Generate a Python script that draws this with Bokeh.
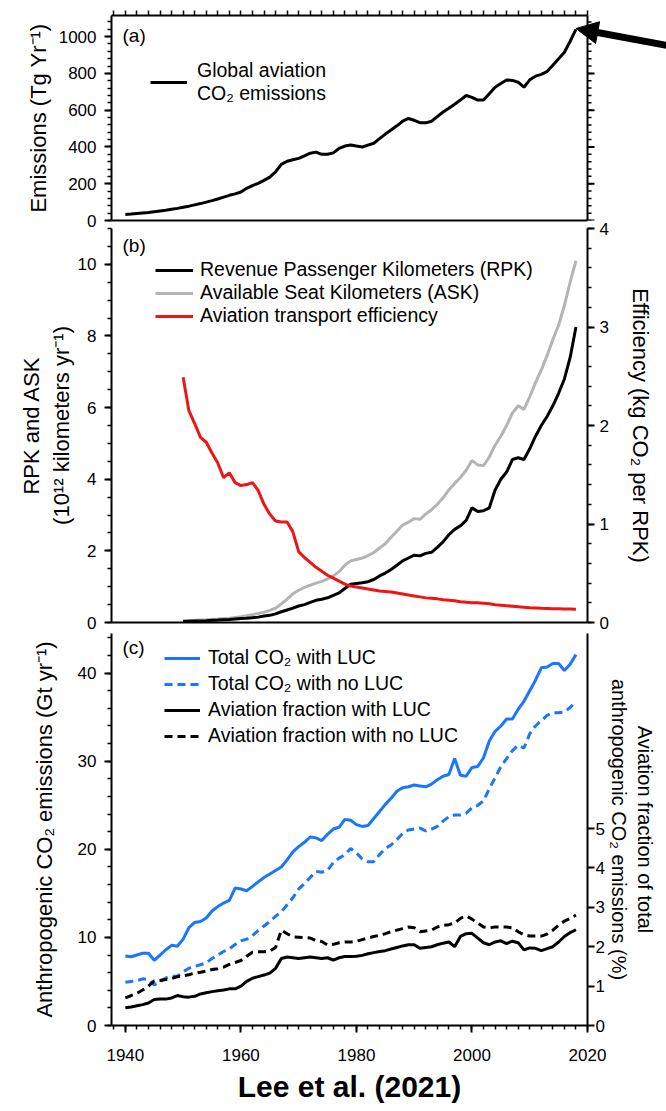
from bokeh.plotting import figure
from bokeh.models import (Range1d, LinearAxis, FixedTicker, Legend, LegendItem,
                          Label, Arrow, NormalHead, Span)
from bokeh.layouts import column
from bokeh.embed import file_html
from bokeh.resources import INLINE
from bokeh.core.properties import value

# ---------------- data ----------------
years_a = list(range(1940, 2019))
aviation_co2 = [33, 35, 38, 41, 44, 48, 52, 56, 61, 66,
                72, 78, 85, 92, 100, 108, 117, 127, 137, 145,
                155, 175, 190, 202, 218, 236, 265, 305, 322, 330,
                338, 352, 366, 372, 360, 360, 368, 392, 405, 411,
                405, 400, 410, 420, 445, 470, 492, 515, 540, 555,
                545, 532, 531, 540, 565, 590, 610, 632, 655, 680,
                670, 655, 655, 690, 725, 745, 764, 762, 752, 725,
                765, 785, 795, 810, 845, 880, 915, 975, 1040]

years_b = list(range(1950, 2019))
rpk = [0.03, 0.035, 0.04, 0.045, 0.05, 0.06, 0.068, 0.078, 0.085, 0.1,
       0.11, 0.12, 0.135, 0.15, 0.18, 0.2, 0.24, 0.3, 0.35, 0.4,
       0.46, 0.5, 0.56, 0.62, 0.65, 0.69, 0.76, 0.83, 0.95, 1.07,
       1.09, 1.11, 1.14, 1.2, 1.3, 1.38, 1.48, 1.6, 1.72, 1.8,
       1.88, 1.86, 1.93, 1.96, 2.1, 2.25, 2.45, 2.6, 2.7, 2.85,
       3.2, 3.1, 3.12, 3.2, 3.7, 4.0, 4.2, 4.55, 4.6, 4.55,
       4.85, 5.2, 5.5, 5.75, 6.05, 6.4, 6.8, 7.4, 8.25]
ask = [0.05, 0.055, 0.06, 0.068, 0.075, 0.085, 0.095, 0.11, 0.12, 0.14,
       0.16, 0.19, 0.22, 0.25, 0.29, 0.34, 0.4, 0.52, 0.65, 0.8,
       0.9, 0.98, 1.04, 1.1, 1.15, 1.22, 1.3, 1.42, 1.6, 1.72,
       1.76, 1.8, 1.87, 1.95, 2.08, 2.2, 2.38, 2.55, 2.72, 2.8,
       2.9, 2.88, 3.03, 3.15, 3.3, 3.48, 3.7, 3.88, 4.05, 4.25,
       4.52, 4.4, 4.38, 4.62, 4.95, 5.2, 5.5, 5.85, 6.05, 5.95,
       6.3, 6.7, 7.05, 7.45, 7.9, 8.3, 8.85, 9.5, 10.1]
efficiency = [2.49, 2.15, 2.02, 1.88, 1.83, 1.72, 1.62, 1.47, 1.52, 1.42,
              1.39, 1.40, 1.42, 1.34, 1.2, 1.1, 1.03, 1.02, 1.02, 0.92,
              0.72, 0.66, 0.61, 0.56, 0.52, 0.48, 0.45, 0.42, 0.39, 0.37,
              0.36, 0.35, 0.34, 0.33, 0.32, 0.315, 0.31, 0.3, 0.29, 0.28,
              0.27, 0.26, 0.25, 0.245, 0.24, 0.23, 0.225, 0.22, 0.21, 0.205,
              0.2, 0.2, 0.195, 0.19, 0.18, 0.175, 0.17, 0.165, 0.16, 0.155,
              0.15, 0.148, 0.145, 0.143, 0.14, 0.14, 0.138, 0.137, 0.135]

years_c = list(range(1940, 2019))
total_luc = [7.9, 7.8, 8.0, 8.2, 8.2, 7.4, 8.0, 8.6, 9.1, 9.0,
             9.8, 11.1, 11.7, 11.8, 12.2, 13.0, 13.5, 13.9, 14.2, 15.6,
             15.5, 15.3, 15.8, 16.3, 16.8, 17.2, 17.6, 18.0, 18.8, 19.7,
             20.3, 20.8, 21.4, 21.3, 21.0, 21.7, 22.3, 22.5, 23.4, 23.3,
             22.8, 22.6, 22.7, 23.5, 24.3, 25.1, 25.8, 26.6, 27.0, 27.1,
             27.3, 27.2, 27.1, 27.4, 27.9, 28.3, 28.5, 30.3, 28.4, 28.3,
             29.3, 29.4, 30.4, 32.3, 33.4, 34.0, 34.8, 34.8, 35.9, 36.8,
             38.0, 39.2, 40.6, 40.7, 41.1, 41.1, 40.3, 41.0, 42.1]
total_noluc = [4.9, 5.0, 5.1, 5.3, 5.2, 4.6, 5.0, 5.4, 5.6, 5.6,
               6.1, 6.5, 6.7, 6.9, 7.1, 7.6, 8.0, 8.4, 8.7, 9.2,
               9.6, 9.8, 10.2, 10.8, 11.3, 11.8, 12.4, 12.9, 13.7, 14.5,
               15.5, 16.1, 16.8, 17.5, 17.4, 17.6, 18.5, 19.0, 19.4, 20.1,
               19.6, 18.9, 18.6, 18.6, 19.4, 20.1, 20.5, 21.1, 21.8, 22.2,
               22.3, 22.4, 22.1, 22.3, 22.6, 23.2, 23.7, 23.9, 23.9, 24.1,
               24.7, 25.0, 25.5, 26.9, 28.1, 29.4, 30.3, 31.2, 31.8, 31.5,
               33.1, 34.0, 34.6, 35.2, 35.5, 35.5, 35.6, 36.1, 36.8]
frac_luc = [0.45, 0.47, 0.5, 0.53, 0.57, 0.66, 0.67, 0.67, 0.7, 0.76,
            0.73, 0.72, 0.74, 0.8, 0.83, 0.86, 0.88, 0.9, 0.93, 0.93,
            1.0, 1.12, 1.2, 1.24, 1.28, 1.33, 1.45, 1.7, 1.74, 1.72,
            1.7, 1.72, 1.74, 1.72, 1.7, 1.72, 1.66, 1.72, 1.75, 1.75,
            1.76, 1.78, 1.82, 1.85, 1.88, 1.9, 1.94, 1.98, 2.02, 2.05,
            2.05, 1.96, 1.98, 2.0, 2.05, 2.09, 2.12, 2.0, 2.26, 2.33,
            2.34, 2.22, 2.1, 2.05, 2.12, 2.15, 2.08, 2.14, 2.1, 1.92,
            1.97, 1.96, 1.9, 1.95, 2.0, 2.12, 2.26, 2.36, 2.43]
frac_noluc = [0.7, 0.76, 0.82, 0.9, 1.0, 1.13, 1.14, 1.17, 1.19, 1.24,
              1.26, 1.29, 1.33, 1.35, 1.38, 1.42, 1.44, 1.48, 1.55, 1.6,
              1.65, 1.76, 1.86, 1.87, 1.87, 1.89, 1.98, 2.42, 2.33, 2.25,
              2.24, 2.23, 2.22, 2.16, 2.13, 2.04, 2.06, 2.1, 2.12, 2.12,
              2.14, 2.18, 2.22, 2.26, 2.29, 2.33, 2.38, 2.42, 2.46, 2.5,
              2.48, 2.38, 2.4, 2.42, 2.5, 2.54, 2.56, 2.6, 2.72, 2.78,
              2.7, 2.6, 2.5, 2.48, 2.5, 2.5, 2.5, 2.48, 2.38, 2.3,
              2.27, 2.27, 2.27, 2.32, 2.42, 2.55, 2.65, 2.72, 2.8]

x_ticks = [1940, 1960, 1980, 2000, 2020]
x_minor = list(range(1938, 2021, 2))
ya_ticks = [0, 200, 400, 600, 800, 1000]
ya_minor = list(range(0, 1121, 40))
yb_ticks = [0, 2, 4, 6, 8, 10]
yb_minor = [0, 0.5, 1, 1.5, 2, 2.5, 3, 3.5, 4, 4.5, 5, 5.5, 6, 6.5, 7, 7.5,
            8, 8.5, 9, 9.5, 10, 10.5, 11]
eff_ticks = [0, 1, 2, 3, 4]
eff_minor = [0, 0.2, 0.4, 0.6, 0.8, 1, 1.2, 1.4, 1.6, 1.8, 2, 2.2, 2.4, 2.6,
             2.8, 3, 3.2, 3.4, 3.6, 3.8, 4]
yc_ticks = [0, 10, 20, 30, 40]
yc_minor = list(range(0, 45, 2))
frac_ticks = [0, 1, 2, 3, 4, 5]

# ---------------- style ----------------
FONT = "Liberation Sans"
TICK_FS = "17px"
AXLAB_FS = "22px"
LEG_FS = "19.5px"
BLUE = "#1a75ff"
GRAY = "#b4b4b4"
RED = "#f01414"

X0, X1 = 1937.6, x_ticks[-1]
FRAME_L, FRAME_R = 111, 587
PX_PER_YR = (FRAME_R - FRAME_L) / (X1 - X0)


def style_axis(ax, ticks, minor, tick_out=7, minor_out=4,
               label_standoff=8, axis_label_standoff=8):
    ax.ticker = FixedTicker(ticks=ticks, minor_ticks=minor)
    ax.axis_line_width = 2
    ax.axis_line_color = "black"
    ax.major_tick_line_width = 2
    ax.minor_tick_line_width = 1.5
    ax.major_tick_line_color = "black"
    ax.minor_tick_line_color = "black"
    ax.major_tick_in = 0
    ax.major_tick_out = tick_out
    ax.minor_tick_in = 0
    ax.minor_tick_out = minor_out
    ax.major_label_text_font = FONT
    ax.major_label_text_font_size = TICK_FS
    ax.major_label_standoff = label_standoff
    ax.major_label_text_color = "black"
    ax.axis_label_text_font = FONT
    ax.axis_label_text_font_size = AXLAB_FS
    ax.axis_label_text_font_style = "normal"
    ax.axis_label_text_color = "black"
    ax.axis_label_standoff = axis_label_standoff


xr = Range1d(X0, X1)


def make_fig(h, top, bottom, yr, x_loc, xrange=xr, right=666 - FRAME_R, **kw):
    p = figure(width=666, height=h, x_range=xrange, y_range=yr,
               output_backend="svg", toolbar_location=None,
               min_border_left=FRAME_L, min_border_right=right,
               min_border_top=top, min_border_bottom=bottom,
               x_axis_location=x_loc, **kw)
    try:
        p.frame_align = False
    except AttributeError:
        pass
    p.grid.visible = False
    p.outline_line_color = None
    p.background_fill_color = "white"
    p.border_fill_color = "white"
    return p


def panel_letter(p, text, y):
    p.add_layout(Label(x=11, y=y, x_units="screen", y_units="screen", text=text,
                       text_font=FONT, text_font_size="19px",
                       text_baseline="middle", text_color="black"))


def make_legend(items, loc, glyph_w, standoff, spacing):
    return Legend(items=items, location=loc, margin=0, padding=0, spacing=spacing,
                  glyph_width=glyph_w, glyph_height=22, label_height=22,
                  label_standoff=standoff,
                  label_text_font=FONT, label_text_font_size=LEG_FS,
                  label_text_color="black",
                  border_line_alpha=0, background_fill_alpha=0)


# ---------------- panel (a) ----------------
# frame runs to the right edge of the page so that the pointer arrow can be drawn
xa_end = X1 + (666 - FRAME_R) / PX_PER_YR
fa = make_fig(234, 15, 14, Range1d(0, 1115), "above",
              xrange=Range1d(X0, xa_end), right=0)
top_ax = fa.xaxis[0]
style_axis(top_ax, [], x_minor, minor_out=5)
top_ax.bounds = (X0, X1)
bot_ax = LinearAxis()
style_axis(bot_ax, [], [])
bot_ax.bounds = (X0, X1)
fa.add_layout(bot_ax, "below")
style_axis(fa.yaxis[0], ya_ticks, ya_minor, axis_label_standoff=5)
fa.yaxis[0].axis_label = "Emissions (Tg Yr\u207b\u00b9)"
fa.add_layout(Span(location=X1, dimension="height", line_color="black", line_width=2))
minor_len = 4 / PX_PER_YR
major_len = 7 / PX_PER_YR
fa.segment(x0=[X1] * len(ya_minor), y0=ya_minor,
           x1=[X1 + minor_len] * len(ya_minor), y1=ya_minor,
           line_color="black", line_width=1.5)
fa.segment(x0=[X1] * len(ya_ticks), y0=ya_ticks,
           x1=[X1 + major_len] * len(ya_ticks), y1=ya_ticks,
           line_color="black", line_width=2)
r_a = fa.line(years_a, aviation_co2, line_width=3, line_color="black")
fa.add_layout(make_legend([LegendItem(label=value("Global aviation\nCO\u2082 emissions"),
                                      renderers=[r_a])], (39, 115), 37, 10, 0))
panel_letter(fa, "(a)", 185)
fa.add_layout(Arrow(end=NormalHead(size=22, fill_color="black", line_color="black"),
                    x_start=X1 + 80 / PX_PER_YR, y_start=952,
                    x_end=years_a[-1], y_end=aviation_co2[-1] + 4,
                    line_width=7, line_color="black"))

# ---------------- panel (b) ----------------
fb = make_fig(418, 14, 10, Range1d(0, 11), "below", margin=(-20, 0, 0, 0))
fb.border_fill_alpha = 0
fb.extra_y_ranges = {"eff": Range1d(0, 4)}
style_axis(fb.xaxis[0], [], [], tick_out=0, minor_out=0)
style_axis(fb.yaxis[0], yb_ticks, yb_minor, axis_label_standoff=1)
fb.yaxis[0].axis_label = "RPK and ASK\n(10\u00b9\u00b2 kilometers yr\u207b\u00b9)"
rb = LinearAxis(y_range_name="eff", axis_label="Efficiency (kg CO\u2082 per RPK)")
style_axis(rb, eff_ticks, eff_minor, label_standoff=5, axis_label_standoff=16)
fb.add_layout(rb, "right")
r_ask = fb.line(years_b, ask, line_width=3, line_color=GRAY)
r_rpk = fb.line(years_b, rpk, line_width=3, line_color="black")
r_eff = fb.line(years_b, efficiency, line_width=3, line_color=RED, y_range_name="eff")
fb.add_layout(make_legend([
    LegendItem(label=value("Revenue Passenger Kilometers (RPK)"), renderers=[r_rpk]),
    LegendItem(label=value("Available Seat Kilometers (ASK)"), renderers=[r_ask]),
    LegendItem(label=value("Aviation transport efficiency"), renderers=[r_eff]),
], (44, 295), 38, 7, 0))
panel_letter(fb, "(b)", 377)

# ---------------- panel (c) ----------------
fc = make_fig(479, 1, 86, Range1d(0, 44.5), "below")
fc.extra_y_ranges = {"frac": Range1d(0, 9.95)}
style_axis(fc.xaxis[0], x_ticks, x_minor, tick_out=7, minor_out=4,
           label_standoff=16, axis_label_standoff=6)
fc.xaxis[0].axis_label = "Lee et al. (2021)"
fc.xaxis[0].axis_label_text_font_style = "bold"
fc.xaxis[0].axis_label_text_font_size = "30px"
style_axis(fc.yaxis[0], yc_ticks, yc_minor, axis_label_standoff=18)
fc.yaxis[0].axis_label = "Anthropogenic CO\u2082 emissions (Gt yr\u207b\u00b9)"
rc = LinearAxis(y_range_name="frac",
                axis_label="Aviation fraction of total\nanthropogenic CO\u2082 emissions (%)")
style_axis(rc, frac_ticks, [], tick_out=7, label_standoff=1, axis_label_standoff=0)
rc.axis_label_text_font_size = "20px"
fc.add_layout(rc, "right")
r_tl = fc.line(years_c, total_luc, line_width=3, line_color=BLUE)
r_tn = fc.line(years_c, total_noluc, line_width=3, line_color=BLUE, line_dash="8 5")
r_fl = fc.line(years_c, frac_luc, line_width=3, line_color="black", y_range_name="frac")
r_fn = fc.line(years_c, frac_noluc, line_width=3, line_color="black",
               line_dash="8 5", y_range_name="frac")
fc.add_layout(make_legend([
    LegendItem(label=value("Total CO\u2082 with LUC"), renderers=[r_tl]),
    LegendItem(label=value("Total CO\u2082 with no LUC"), renderers=[r_tn]),
    LegendItem(label=value("Aviation fraction with LUC"), renderers=[r_fl]),
    LegendItem(label=value("Aviation fraction with no LUC"), renderers=[r_fn]),
], (53, 278), 36, 8, 3))
panel_letter(fc, "(c)", 378)

layout = column(fa, fb, fc, spacing=0)
open("out.html", "w").write(file_html(layout, INLINE, "Lee et al. (2021)"))
